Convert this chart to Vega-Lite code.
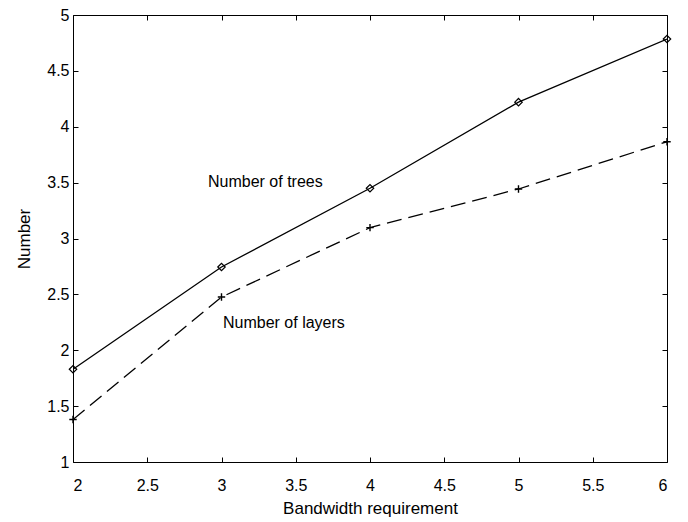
{
  "$schema": "https://vega.github.io/schema/vega-lite/v6.json",
  "width": 594,
  "height": 447,
  "autosize": {"type": "none"},
  "padding": {"left": 73, "top": 15, "right": 21, "bottom": 60},
  "background": "white",
  "config": {
    "view": {"stroke": "black", "strokeWidth": 1},
    "axis": {
      "grid": false,
      "domain": false,
      "tickColor": "black",
      "tickSize": -5,
      "tickWidth": 1,
      "labelFont": "Liberation Sans",
      "labelFontSize": 16,
      "labelColor": "black",
      "titleFont": "Liberation Sans",
      "titleFontSize": 17,
      "titleFontWeight": "normal",
      "titleColor": "black"
    },
    "text": {"font": "Liberation Sans"}
  },
  "datasets": {
    "series": [
      {"bw": 2, "value": 1.83, "series": "trees"},
      {"bw": 3, "value": 2.745, "series": "trees"},
      {"bw": 4, "value": 3.45, "series": "trees"},
      {"bw": 5, "value": 4.22, "series": "trees"},
      {"bw": 6, "value": 4.785, "series": "trees"},
      {"bw": 2, "value": 1.38, "series": "layers"},
      {"bw": 3, "value": 2.476, "series": "layers"},
      {"bw": 4, "value": 3.097, "series": "layers"},
      {"bw": 5, "value": 3.443, "series": "layers"},
      {"bw": 6, "value": 3.866, "series": "layers"}
    ],
    "notes": [
      {"bw": 2.909, "value": 3.506, "label": "Number of trees"},
      {"bw": 3.01, "value": 2.244, "label": "Number of layers"}
    ]
  },
  "resolve": {"axis": {"x": "independent", "y": "independent"}},
  "layer": [
    {
      "data": {"name": "series"},
      "transform": [{"filter": "datum.series === 'trees'"}],
      "mark": {"type": "line", "color": "black", "strokeWidth": 1.3, "clip": true},
      "encoding": {
        "x": {"field": "bw", "type": "quantitative",
              "scale": {"domain": [2, 6], "nice": false, "zero": false},
              "axis": {"orient": "bottom", "values": [2, 2.5, 3, 3.5, 4, 4.5, 5, 5.5, 6], "format": "~g",
                       "title": "Bandwidth requirement", "labelPadding": 20, "titlePadding": 7}},
        "y": {"field": "value", "type": "quantitative",
              "scale": {"domain": [1, 5], "nice": false, "zero": false},
              "axis": {"orient": "left", "values": [1, 1.5, 2, 2.5, 3, 3.5, 4, 4.5, 5], "format": "~g",
                       "title": "Number", "labelPadding": 9, "titlePadding": 13}}
      }
    },
    {
      "data": {"name": "series"},
      "transform": [{"filter": "datum.series === 'layers'"}],
      "mark": {"type": "line", "color": "black", "strokeWidth": 1.3, "strokeDash": [15, 7], "clip": true},
      "encoding": {
        "x": {"field": "bw", "type": "quantitative",
              "axis": {"orient": "top", "values": [2, 2.5, 3, 3.5, 4, 4.5, 5, 5.5, 6], "labels": false, "title": null}},
        "y": {"field": "value", "type": "quantitative",
              "axis": {"orient": "right", "values": [1, 1.5, 2, 2.5, 3, 3.5, 4, 4.5, 5], "labels": false, "title": null}}
      }
    },
    {
      "data": {"name": "series"},
      "transform": [{"filter": "datum.series === 'trees'"}],
      "mark": {"type": "point", "shape": "diamond", "size": 55, "filled": false, "color": "black", "strokeWidth": 1.2, "opacity": 1},
      "encoding": {
        "x": {"field": "bw", "type": "quantitative", "axis": null},
        "y": {"field": "value", "type": "quantitative", "axis": null}
      }
    },
    {
      "data": {"name": "series"},
      "transform": [{"filter": "datum.series === 'layers'"}],
      "mark": {"type": "point", "shape": "M-1,0L1,0M0,-1L0,1", "size": 55, "filled": false, "color": "black", "strokeWidth": 1.4, "opacity": 1},
      "encoding": {
        "x": {"field": "bw", "type": "quantitative", "axis": null},
        "y": {"field": "value", "type": "quantitative", "axis": null}
      }
    },
    {
      "data": {"name": "notes"},
      "mark": {"type": "text", "align": "left", "baseline": "middle", "fontSize": 16, "color": "black"},
      "encoding": {
        "x": {"field": "bw", "type": "quantitative", "axis": null},
        "y": {"field": "value", "type": "quantitative", "axis": null},
        "text": {"field": "label"}
      }
    }
  ]
}
